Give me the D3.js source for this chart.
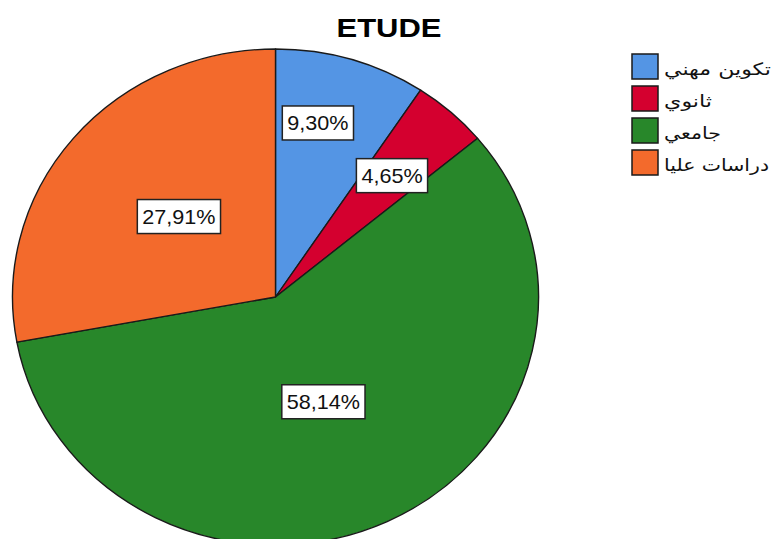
<!DOCTYPE html>
<html>
<head>
<meta charset="utf-8">
<script src="https://cdn.jsdelivr.net/npm/d3@7"></script>
<style>
  html, body { margin: 0; padding: 0; background: #fff; }
  svg { display: block; }
</style>
</head>
<body>
<svg id="chart" width="773" height="539"></svg>
<script>
// ---- data ----
const categories = ["تكوين مهني", "ثانوي", "جامعي", "دراسات عليا"];
const percentages = [9.30, 4.65, 58.14, 27.91];
const percentLabels = ["9,30%", "4,65%", "58,14%", "27,91%"];
const colors = ["#5495E4", "#D4002F", "#28872A", "#F36A2C"];
const title = "ETUDE";

// ---- layout ----
const W = 773, H = 539;
const cx = 275.5, cy = 297, rx = 263, ry = 248;
const yScale = ry / rx;
// label placement (radius fraction, angle shift in degrees) per slice
const labelPolar = [[0.72, -3.8], [0.66, 0.3], [0.46, 1.8], [0.49, 1.7]];

const svg = d3.select("#chart");

const pie = d3.pie().sort(null).value(d => d)
  .startAngle(0).endAngle(2 * Math.PI);
const arcs = pie(percentages);

const arc = d3.arc().innerRadius(0).outerRadius(rx);

const g = svg.append("g")
  .attr("transform", `translate(${cx},${cy}) scale(1,${yScale})`);

g.selectAll("path")
  .data(arcs)
  .join("path")
  .attr("d", arc)
  .attr("fill", (d, i) => colors[i])
  .attr("stroke", "#1a1a1a")
  .attr("stroke-width", 1.4)
  .attr("stroke-linejoin", "round");

// labels
const lg = svg.append("g");
arcs.forEach((d, i) => {
  const [frac, shift] = labelPolar[i];
  const mid = (d.startAngle + d.endAngle) / 2 + shift * Math.PI / 180;
  const r = frac * rx;
  const x = cx + r * Math.sin(mid);
  const y = cy - r * Math.cos(mid) * yScale;
  const grp = lg.append("g");
  const t = grp.append("text")
    .attr("font-family", "Arial, 'Liberation Sans', sans-serif")
    .attr("font-size", 20)
    .attr("text-anchor", "middle")
    .attr("fill", "#111")
    .attr("transform", `translate(${x},${y + 7}) scale(1.08,1)`)
    .text(percentLabels[i]);
  const w = t.node().getComputedTextLength() * 1.08;
  const bw = w + 10, bh = 34;
  grp.insert("rect", "text")
    .attr("x", x - bw / 2)
    .attr("y", y - bh / 2)
    .attr("width", bw)
    .attr("height", bh)
    .attr("fill", "#fff")
    .attr("stroke", "#222")
    .attr("stroke-width", 1.5);
});

// title
svg.append("text")
  .attr("x", 389)
  .attr("y", 36.5)
  .attr("text-anchor", "middle")
  .attr("font-family", "Arial, 'Liberation Sans', sans-serif")
  .attr("font-weight", "bold")
  .attr("font-size", 26.5)
  .attr("textLength", 105)
  .attr("lengthAdjust", "spacingAndGlyphs")
  .attr("fill", "#000")
  .text(title);

// legend
const legendWidths = [107, 48, 57, 105];
const leg = svg.append("g");
categories.forEach((c, i) => {
  const y0 = 54 + i * 32;
  leg.append("rect")
    .attr("x", 632)
    .attr("y", y0)
    .attr("width", 26)
    .attr("height", 25)
    .attr("fill", colors[i])
    .attr("stroke", "#1a1a1a")
    .attr("stroke-width", 1.5);
  leg.append("text")
    .attr("x", 664)
    .attr("y", y0 + 21)
    .attr("font-family", "'DejaVu Sans', sans-serif")
    .attr("font-size", 17)
    .attr("fill", "#111")
    .attr("textLength", legendWidths[i])
    .attr("lengthAdjust", "spacingAndGlyphs")
    .text(c);
});
</script>
</body>
</html>
